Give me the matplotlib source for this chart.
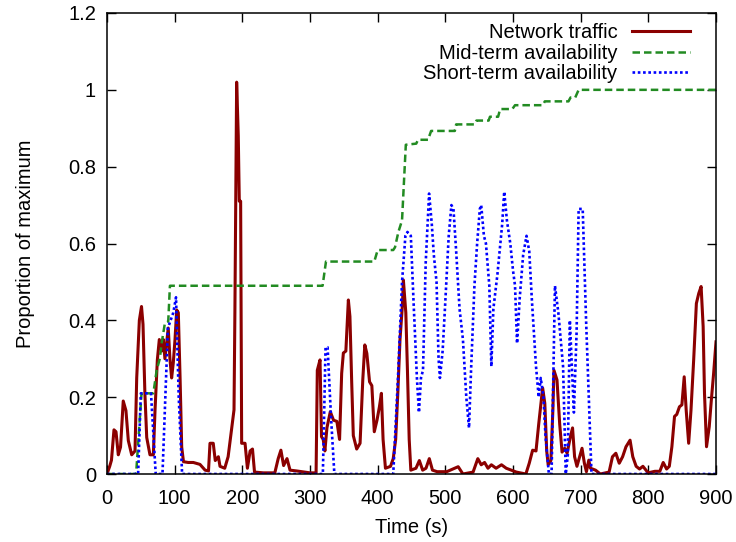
import matplotlib
matplotlib.use("Agg")
import matplotlib.pyplot as plt

plt.rcParams['font.family'] = ['Liberation Sans', 'DejaVu Sans']

# network traffic
traffic_t = [0, 4, 6.6, 10.3, 13.3, 16.7, 20, 24, 28, 31.5, 36.5, 41.4, 43.9, 47.8, 51, 53.2,
             56, 58.7, 63.5, 68.5, 71, 74.4, 77.3, 80.7, 83.2, 85.6, 88, 90.5, 93, 95.5, 98,
             100.5, 103, 105.4, 108, 110.4, 113, 120, 127.6, 137.4, 145, 150, 152.2, 157, 160,
             164.6, 167, 174, 179, 184, 187.7, 189, 191.6, 194, 195.5, 197.5, 199, 204, 207.5,
             211.5, 215, 218, 231, 248, 253, 257, 261, 266, 270.5, 280, 300, 309, 310.8, 314.8,
             317, 319.5, 322, 325, 330, 334.8, 339.7, 343.7, 346.8, 349.3, 353, 356.7, 359,
             361.6, 364, 369, 374, 378, 381, 384, 388, 391.4, 395, 399, 402.6, 405.5, 408,
             411.5, 419, 423, 426.6, 430, 433, 436.6, 438, 441.6, 444, 446.6, 449, 456.6, 461.6,
             466.5, 471.4, 476.3, 481, 488, 502, 519, 526, 541, 548, 553, 558, 563, 568, 575,
             583, 590, 605, 619, 624, 629, 634, 638, 641.3, 643.8, 647, 649.8, 652, 656, 659,
             660.5, 665, 669, 672.5, 676.4, 680, 684.8, 688, 691, 694.5, 698.5, 702, 705.5,
             708.5, 712, 714.5, 722, 729, 742, 747, 752, 757, 762, 767, 773, 777, 782, 787, 792,
             799.7, 809.6, 817, 822, 827, 831, 834.8, 838.7, 842, 846, 849.6, 853, 856, 859.6,
             863, 867, 871, 874.5, 878, 881, 883, 886, 890, 893, 896.5, 900]
traffic_v = [0.0, 0.02, 0.036, 0.115, 0.11, 0.05, 0.07, 0.19, 0.165, 0.087, 0.05, 0.06, 0.25,
             0.40, 0.436, 0.39, 0.21, 0.095, 0.05, 0.05, 0.167, 0.297, 0.35, 0.32, 0.35, 0.30,
             0.34, 0.38, 0.30, 0.25, 0.29, 0.35, 0.427, 0.42, 0.25, 0.07, 0.032, 0.03, 0.03,
             0.025, 0.01, 0.008, 0.08, 0.08, 0.035, 0.045, 0.02, 0.015, 0.045, 0.115, 0.167,
             0.42, 1.02, 0.88, 0.71, 0.71, 0.08, 0.08, 0.015, 0.06, 0.065, 0.005, 0.003, 0.003,
             0.04, 0.062, 0.022, 0.04, 0.01, 0.008, 0.003, 0.003, 0.27, 0.297, 0.097, 0.09,
             0.06, 0.12, 0.162, 0.14, 0.137, 0.09, 0.262, 0.315, 0.32, 0.453, 0.41, 0.24, 0.1,
             0.065, 0.08, 0.245, 0.336, 0.314, 0.24, 0.23, 0.11, 0.14, 0.175, 0.21, 0.09,
             0.015, 0.02, 0.04, 0.09, 0.22, 0.35, 0.44, 0.505, 0.42, 0.27, 0.09, 0.01, 0.015,
             0.035, 0.01, 0.015, 0.04, 0.01, 0.006, 0.006, 0.019, 0.0, 0.005, 0.04, 0.024, 0.03,
             0.015, 0.024, 0.015, 0.024, 0.015, 0.005, 0.0, 0.028, 0.062, 0.06, 0.13, 0.184,
             0.224, 0.184, 0.06, 0.024, 0.035, 0.17, 0.27, 0.245, 0.13, 0.057, 0.067, 0.054,
             0.097, 0.12, 0.045, 0.02, 0.045, 0.067, 0.028, 0.006, 0.036, 0.015, 0.01, 0.0,
             0.005, 0.045, 0.054, 0.028, 0.045, 0.071, 0.088, 0.045, 0.02, 0.013, 0.02, 0.003,
             0.007, 0.007, 0.03, 0.013, 0.02, 0.071, 0.15, 0.155, 0.175, 0.18, 0.253, 0.165,
             0.08, 0.165, 0.297, 0.444, 0.47, 0.488, 0.384, 0.21, 0.071, 0.123, 0.19, 0.262,
             0.344]

# mid-term availability
mid_t = [0, 43, 51, 68.5, 73.4, 78, 80.7, 85.6, 90.5, 93, 318.6, 323.6, 395, 400, 423, 425.6,
         430.6, 436, 438, 441.6, 457, 459.6, 474.4, 479, 514, 516, 543, 546, 564, 566, 578,
         581, 599, 603, 644, 647, 682, 685, 692, 697, 900]
mid_v = [0, 0, 0.21, 0.21, 0.27, 0.30, 0.34, 0.393, 0.397, 0.49, 0.49, 0.553, 0.553, 0.583,
         0.583, 0.59, 0.63, 0.66, 0.73, 0.857, 0.86, 0.87, 0.87, 0.893, 0.893, 0.91, 0.91,
         0.92, 0.92, 0.93, 0.93, 0.95, 0.95, 0.96, 0.96, 0.97, 0.97, 0.98, 0.98, 1.0, 1.0]

# short-term availability
short_t = [0, 46, 50, 65, 72, 82, 90, 98, 102, 106, 111, 319, 323, 326, 331, 336, 423, 430,
           436, 441, 444, 449, 453, 458, 461, 464, 467, 471, 476, 480, 483, 487, 490, 492,
           496, 500, 505, 509, 512, 516, 521, 526, 531, 535, 538, 543, 547, 551, 553, 557,
           560, 565, 568, 571, 577, 584, 587, 591, 596, 600, 603, 606, 610, 615, 620, 624,
           628, 634, 638, 641, 645, 648, 653, 657, 662, 667, 674, 678, 681, 684, 687, 690,
           694, 697, 703, 708, 712, 716, 900]
short_v = [0, 0, 0.21, 0.21, 0, 0, 0.38, 0.42, 0.46, 0.2, 0, 0, 0.33, 0.33, 0.15, 0, 0, 0.25,
           0.5, 0.62, 0.63, 0.62, 0.45, 0.25, 0.16, 0.25, 0.27, 0.55, 0.73, 0.65, 0.57, 0.5,
           0.3, 0.25, 0.32, 0.45, 0.62, 0.70, 0.69, 0.58, 0.43, 0.35, 0.2, 0.12, 0.27, 0.49,
           0.6, 0.69, 0.70, 0.62, 0.60, 0.49, 0.28, 0.43, 0.52, 0.65, 0.735, 0.66, 0.6, 0.53,
           0.49, 0.34, 0.46, 0.57, 0.62, 0.58, 0.45, 0.28, 0.2, 0.25, 0.2, 0.1, 0, 0, 0.49,
           0.42, 0.28, 0, 0.05, 0.40, 0.28, 0.16, 0.37, 0.69, 0.69, 0.4, 0.2, 0, 0]

xticks = [0, 100, 200, 300, 400, 500, 600, 700, 800, 900]
yticks = [0, 0.2, 0.4, 0.6, 0.8, 1.0, 1.2]
ytick_labels = ['0', '0.2', '0.4', '0.6', '0.8', '1', '1.2']

fs = 14.5
fig = plt.figure(figsize=(7.36, 5.42), dpi=100)
ax = fig.add_axes([107/736, 1 - 474/542, 609/736, 461/542])

ax.plot(traffic_t, traffic_v, color='#8b0000', lw=2.2, label='Network traffic')
ax.plot(mid_t, mid_v, color='#228b22', lw=1.8, dashes=(3.0, 1.6), label='Mid-term availability')
ax.plot(short_t, short_v, color='#0000ff', lw=1.9, dashes=(1, 1), label='Short-term availability')

ax.set_xlim(0, 900)
ax.set_ylim(0, 1.2)
ax.set_xticks(xticks)
ax.set_yticks(yticks)
ax.set_yticklabels(ytick_labels)
ax.tick_params(direction='in', length=6.5, width=1.0, top=True, right=True, labelsize=fs)
ax.tick_params(axis='x', pad=11)
ax.tick_params(axis='y', pad=8)
for s in ax.spines.values():
    s.set_linewidth(1.1)

ax.set_xlabel('Time (s)', fontsize=fs, labelpad=7)
ax.set_ylabel('Proportion of maximum', fontsize=fs, labelpad=24)

leg = ax.legend(loc='upper right', bbox_to_anchor=(1 - 26/609, 1 - 10/461), frameon=False,
                markerfirst=False, fontsize=fs, handlelength=2.9, handletextpad=0.7,
                labelspacing=0.08, borderpad=0, borderaxespad=0)

fig.savefig('out.png', dpi=100)
